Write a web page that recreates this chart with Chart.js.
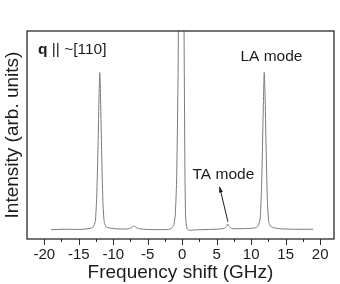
<!DOCTYPE html>
<html lang="en">
<head>
<meta charset="UTF-8">
<script src="https://cdn.jsdelivr.net/npm/chart.js@4.4.1/dist/chart.umd.min.js"></script>
<title>Brillouin spectrum</title>
<style>
  html, body { margin: 0; padding: 0; background: #fff; }
</style>
</head>
<body>
<canvas id="myChart" width="340" height="284"></canvas>
<script>
// frequency shift (GHz) and intensity (arb. units)
const shift = [-19.0, -17.0, -15.0, -13.5, -12.9, -12.6, -12.4, -12.2, -12.05, -11.95, -11.85, -11.7, -11.5, -11.3, -11.0,
  -10.0, -8.0, -7.3, -7.0, -6.7, -6.0, -4.0, -2.0, -1.5, -1.2, -1.0, -0.8, -0.6, -0.5, -0.2, 0.2, 0.3, 0.4, 0.5, 0.7,
  1.0, 2.0, 4.0, 6.0, 6.4, 6.6, 6.8, 7.2, 9.0, 10.5, 11.0, 11.3, 11.5, 11.7, 11.88, 12.0, 12.15, 12.35, 12.55, 12.9,
  14.0, 16.0, 19.0];
const intensity = [0.045, 0.047, 0.046, 0.050, 0.058, 0.085, 0.20, 0.45, 0.70, 0.80, 0.70, 0.45, 0.18, 0.08, 0.058,
  0.050, 0.048, 0.055, 0.064, 0.055, 0.048, 0.045, 0.046, 0.052, 0.07, 0.12, 0.30, 0.80, 1.30, 2.00, 1.30, 0.80, 0.30, 0.10, 0.05,
  0.042, 0.044, 0.046, 0.050, 0.060, 0.072, 0.060, 0.050, 0.050, 0.053, 0.062, 0.10, 0.25, 0.55, 0.80, 0.70, 0.45, 0.18, 0.08, 0.058,
  0.050, 0.047, 0.047];
const tickValues = [-20, -17.5, -15, -12.5, -10, -7.5, -5, -2.5, 0, 2.5, 5, 7.5, 10, 12.5, 15, 17.5, 20];

// text labels placed in data coordinates
const notes = [
  {text: 'LA mode', x: 12.93, y: 0.875, align: 'center'},
  {text: 'TA mode', x: 5.97, y: 0.308, align: 'center'}
];
const arrowFrom = [6.62, 0.083];
const arrowTo = [5.42, 0.251];

const font = "'Liberation Sans', Arial, sans-serif";
const ink = '#1c1c1c';

const points = shift.map((s, i) => ({x: s, y: intensity[i]}));

// frame, ticks and the text notes
const decor = {
  id: 'decor',
  afterDraw(chart) {
    const c = chart.ctx, a = chart.chartArea;
    const xs = chart.scales.x, ys = chart.scales.y;
    c.save();
    c.strokeStyle = '#2a2a2a';
    c.lineWidth = 1.3;
    c.strokeRect(a.left, a.top, a.right - a.left, a.bottom - a.top);
    // ticks under the axis, long ones on multiples of 5
    c.lineWidth = 1;
    tickValues.forEach(v => {
      const px = Math.round(xs.getPixelForValue(v)) + 0.5;
      const len = (v % 5 === 0) ? 6 : 3;
      c.beginPath();
      c.moveTo(px, a.bottom);
      c.lineTo(px, a.bottom + len);
      c.stroke();
    });
    c.fillStyle = ink;
    c.textBaseline = 'middle';
    c.font = '15.5px ' + font;
    notes.forEach(n => {
      c.textAlign = n.align;
      c.fillText(n.text, xs.getPixelForValue(n.x), ys.getPixelForValue(n.y));
    });
    // q || ~[110] with bold q
    c.textAlign = 'left';
    let qx = xs.getPixelForValue(-20.9), qy = ys.getPixelForValue(0.909);
    c.font = 'bold 15.5px ' + font;
    c.fillText('q', qx, qy);
    qx += c.measureText('q ').width;
    c.font = '15.5px ' + font;
    c.fillText('|| ~[110]', qx, qy);
    // arrow to the TA peak
    const x1 = xs.getPixelForValue(arrowFrom[0]), y1 = ys.getPixelForValue(arrowFrom[1]);
    const x2 = xs.getPixelForValue(arrowTo[0]), y2 = ys.getPixelForValue(arrowTo[1]);
    c.strokeStyle = ink;
    c.beginPath();
    c.moveTo(x1, y1);
    c.lineTo(x2, y2);
    c.stroke();
    const ang = Math.atan2(y2 - y1, x2 - x1);
    c.beginPath();
    c.moveTo(x2, y2);
    c.lineTo(x2 - 6 * Math.cos(ang - 0.35), y2 - 6 * Math.sin(ang - 0.35));
    c.lineTo(x2 - 6 * Math.cos(ang + 0.35), y2 - 6 * Math.sin(ang + 0.35));
    c.closePath();
    c.fill();
    c.restore();
  }
};

const ctx = document.getElementById('myChart').getContext('2d');
new Chart(ctx, {
  type: 'line',
  data: {
    datasets: [{
      data: points,
      borderColor: '#7a7a7a',
      borderWidth: 1,
      pointRadius: 0,
      tension: 0.2,
      fill: false
    }]
  },
  options: {
    responsive: false,
    animation: false,
    layout: {padding: {top: 31, right: 6, left: 0, bottom: 0}},
    plugins: {legend: {display: false}, tooltip: {enabled: false}},
    scales: {
      x: {
        type: 'linear',
        min: -22.5,
        max: 22,
        afterBuildTicks: s => { s.ticks = tickValues.map(v => ({value: v})); },
        afterFit: s => { s.height = 45; },
        grid: {drawOnChartArea: false, tickLength: 6, tickColor: 'rgba(0,0,0,0)'},
        border: {display: false},
        ticks: {
          autoSkip: false,
          maxRotation: 0,
          padding: 1,
          color: ink,
          font: {family: font, size: 15},
          callback: v => (v % 5 === 0 ? String(v) : '')
        },
        title: {
          display: true,
          text: 'Frequency shift (GHz)',
          color: ink,
          font: {family: font, size: 19},
          padding: {top: 0, bottom: 0}
        }
      },
      y: {
        min: 0,
        max: 1,
        afterFit: s => { s.width = 27; },
        grid: {display: false},
        border: {display: false},
        ticks: {display: false},
        title: {
          display: true,
          text: 'Intensity (arb. units)',
          color: ink,
          font: {family: font, size: 19},
          padding: {top: 1, bottom: 0}
        }
      }
    }
  },
  plugins: [decor]
});
</script>
</body>
</html>
